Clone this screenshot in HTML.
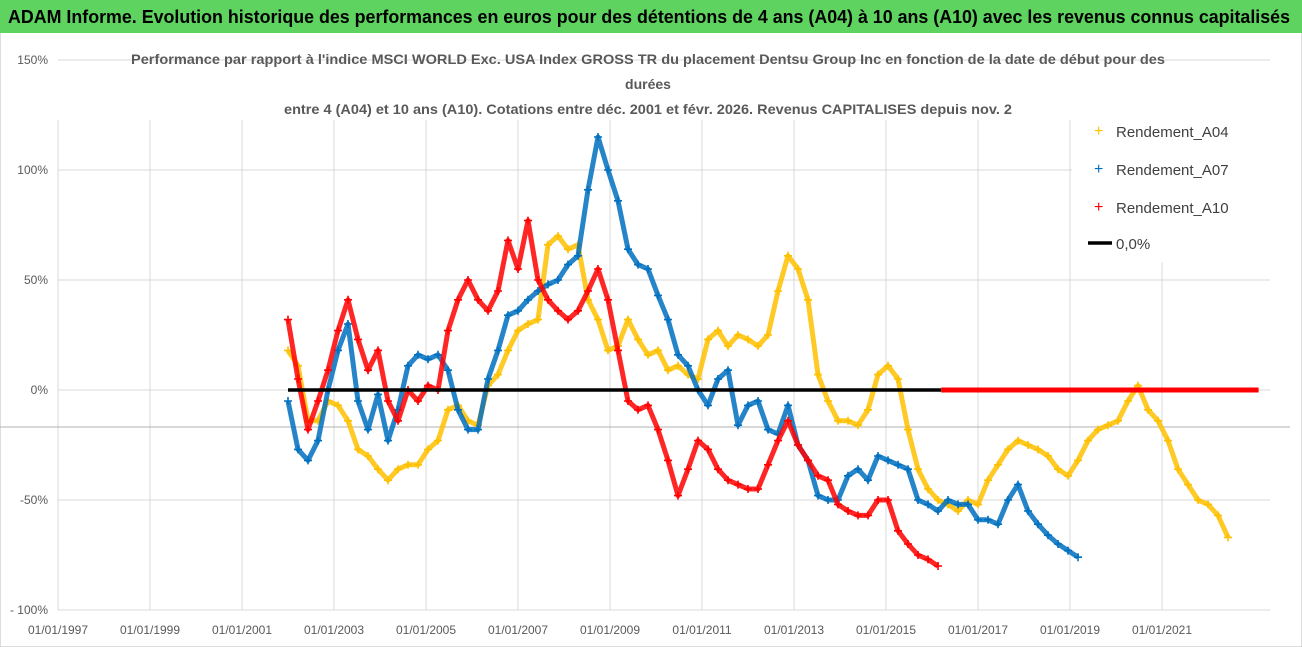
<!DOCTYPE html>
<html><head><meta charset="utf-8"><style>
html,body{margin:0;padding:0;background:#fff;}
svg{display:block;font-family:"Liberation Sans",sans-serif;}
</style></head><body>
<svg id="chart" width="1302" height="647" viewBox="0 0 1302 647">
<rect x="0" y="0" width="1302" height="647" fill="#fff" stroke="#bbb"/>
<rect x="0" y="0" width="1302" height="33" fill="#5fd35f"/>
<text x="8" y="23" font-size="18" font-weight="bold" fill="#000" textLength="1282" lengthAdjust="spacingAndGlyphs">ADAM Informe. Evolution historique des performances en euros pour des détentions de 4 ans (A04) à 10 ans (A10) avec les revenus connus capitalisés</text>
<g id="grid"></g>
<g id="axes"></g>
<g id="series"></g>
<rect x="1072" y="112" width="210" height="150" fill="#fff"/>
<g font-size="14" font-weight="bold" fill="#595959" text-anchor="middle">
<text x="648" y="64" textLength="1034" lengthAdjust="spacingAndGlyphs">Performance par rapport à l'indice MSCI WORLD Exc. USA Index GROSS TR  du placement Dentsu Group Inc en fonction de la date de début pour des</text>
<text x="648" y="89">durées</text>
<text x="648" y="114" textLength="728" lengthAdjust="spacingAndGlyphs">entre 4 (A04) et 10 ans (A10). Cotations entre déc. 2001 et févr. 2026. Revenus CAPITALISES depuis nov. 2</text>
</g>
<g id="legend" font-size="15" fill="#404040">
<g><text x="1094" y="136" fill="#ffc000" font-size="16">+</text><text x="1116" y="137">Rendement_A04</text></g>
<g><text x="1094" y="174" fill="#0070c0" font-size="16">+</text><text x="1116" y="175">Rendement_A07</text></g>
<g><text x="1094" y="212" fill="#ff0000" font-size="16">+</text><text x="1116" y="213">Rendement_A10</text></g>
<g><line x1="1088" y1="243" x2="1112" y2="243" stroke="#000" stroke-width="3.5"/><text x="1116" y="249">0,0%</text></g>
</g>
</svg>
<script>
const yTicks = [150, 100, 50, 0, -50, -100];
const yTickLabels = ["150%", "100%", "50%", "0%", "-50%", "- 100%"];
const xTickYears = [1997, 1999, 2001, 2003, 2005, 2007, 2009, 2011, 2013, 2015, 2017, 2019, 2021];
const xTickLabels = ["01/01/1997","01/01/1999","01/01/2001","01/01/2003","01/01/2005","01/01/2007","01/01/2009","01/01/2011","01/01/2013","01/01/2015","01/01/2017","01/01/2019","01/01/2021"];
const seriesStart = 2002.0;
const seriesStep = 0.2174;
const zeroEndYear = 2016.2;
const lastYear = 2023.1;
const a04Values = [18,11,-14,-14,-5,-7,-14,-27,-30,-36,-41,-36,-34,-34,-27,-23,-9,-7,-14,-16,2,7,18,27,30,32,66,70,64,66,41,32,18,20,32,23,16,18,9,11,7,5,23,27,20,25,23,20,25,45,61,55,41,7,-5,-14,-14,-16,-9,7,11,5,-18,-36,-45,-50,-52,-55,-50,-52,-41,-34,-27,-23,-25,-27,-30,-36,-39,-32,-23,-18,-16,-14,-5,2,-9,-14,-23,-36,-43,-50,-52,-57,-67];
const a07Values = [-5,-27,-32,-23,0,18,30,-5,-18,-2,-23,-9,11,16,14,16,9,-9,-18,-18,5,18,34,36,41,45,48,50,57,61,91,115,100,86,64,57,55,43,32,16,11,0,-7,5,9,-16,-7,-5,-18,-20,-7,-25,-32,-48,-50,-50,-39,-36,-41,-30,-32,-34,-36,-50,-52,-55,-50,-52,-52,-59,-59,-61,-50,-43,-55,-61,-66,-70,-73,-76];
const a10Values = [32,5,-18,-5,9,27,41,23,9,18,-5,-14,0,-5,2,0,27,41,50,41,36,45,68,55,77,50,41,36,32,36,45,55,41,18,-5,-9,-7,-18,-32,-48,-36,-23,-27,-36,-41,-43,-45,-45,-34,-23,-14,-25,-32,-39,-41,-52,-55,-57,-57,-50,-50,-64,-70,-75,-77,-80];

const NS = "http://www.w3.org/2000/svg";
const X0 = 58, PX_PER_YEAR = 46, Y0 = 390, PX_PER_PCT = 2.2;
function xScale(yr){ return X0 + (yr - 1997) * PX_PER_YEAR; }
function yScale(v){ return Y0 - v * PX_PER_PCT; }
function mk(tag, attrs, parent){ const e = document.createElementNS(NS, tag); for (const k in attrs) e.setAttribute(k, attrs[k]); parent.appendChild(e); return e; }

const grid = document.getElementById('grid');
const axes = document.getElementById('axes');
const series = document.getElementById('series');
const plotRight = 1270;

yTicks.forEach((t, i) => {
  const gl = mk('line', {x1: X0, x2: plotRight, y1: yScale(t), y2: yScale(t), stroke: '#d9d9d9', 'stroke-width': 1}, grid);
  
  
  const lb = mk('text', {x: 48, y: yScale(t) + 4, 'text-anchor': 'end', 'font-size': 12, fill: '#595959'}, axes);
  lb.textContent = yTickLabels[i];
  
  
});
xTickYears.forEach((yr, i) => {
  const gl = mk('line', {x1: xScale(yr), x2: xScale(yr), y1: 120, y2: yScale(-100), stroke: '#d9d9d9', 'stroke-width': 1}, grid);
  
  
  const lb = mk('text', {x: xScale(yr), y: 634, 'text-anchor': 'middle', 'font-size': 12, fill: '#595959'}, axes);
  lb.textContent = xTickLabels[i];
  
  
});
const ref = mk('line', {x1: 0, x2: 1290, y1: 427, y2: 427, stroke: '#b0b0b0', 'stroke-width': 1}, grid);



function drawSeries(vals, color, name){
  const g = mk('g', {}, series);
  
  
  const pts = vals.map((v, i) => [xScale(seriesStart + i * seriesStep), yScale(v)]);
  const pl = mk('polyline', {points: pts.map(p => p[0].toFixed(1) + ',' + p[1].toFixed(1)).join(' '), fill: 'none', stroke: color, 'stroke-width': 5, 'stroke-linejoin': 'round', 'stroke-opacity': 0.85}, g);
  
  
  pts.forEach(p => {
    const m = mk('path', {d: `M${p[0]-4},${p[1]}h8M${p[0]},${p[1]-4}v8`, stroke: color, 'stroke-width': 1.6}, g);
    
    
  });
}
drawSeries(a04Values, '#ffc000', 'series-a04');
drawSeries(a07Values, '#0070c0', 'series-a07');
drawSeries(a10Values, '#ff0000', 'series-a10');

const zl = mk('line', {x1: xScale(seriesStart), x2: xScale(zeroEndYear), y1: yScale(0), y2: yScale(0), stroke: '#000', 'stroke-width': 3.5}, series);


const rz = mk('line', {x1: xScale(zeroEndYear), x2: xScale(lastYear), y1: yScale(0), y2: yScale(0), stroke: '#ff0000', 'stroke-width': 5}, series);


</script>
</body></html>
